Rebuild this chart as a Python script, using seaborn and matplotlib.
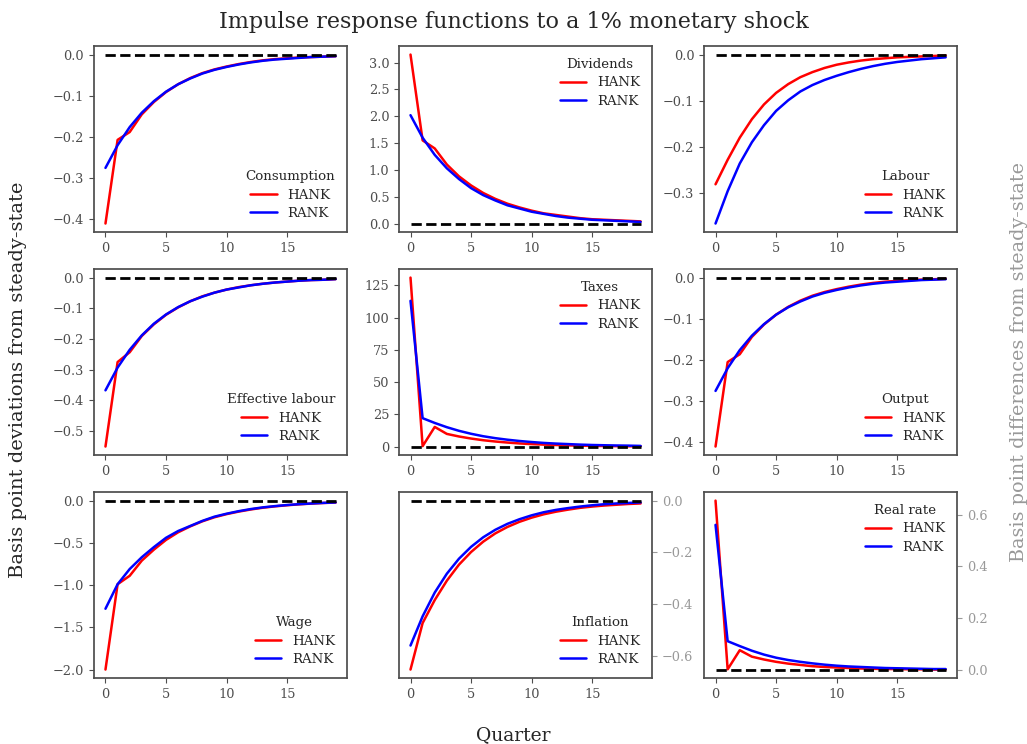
import matplotlib
matplotlib.use("Agg")
import matplotlib.pyplot as plt
import pandas as pd
import seaborn as sns

# Quarters after the shock
quarters = list(range(20))

# Impulse responses (basis points), HANK vs RANK
consumption_hank = [-0.410, -0.207, -0.188, -0.145, -0.115, -0.091, -0.072, -0.057, -0.045, -0.036,
                    -0.029, -0.023, -0.018, -0.014, -0.011, -0.009, -0.007, -0.006, -0.005, -0.004]
consumption_rank = [-0.275, -0.220, -0.176, -0.141, -0.113, -0.090, -0.072, -0.058, -0.046, -0.037,
                    -0.030, -0.024, -0.019, -0.015, -0.012, -0.010, -0.008, -0.006, -0.005, -0.004]

dividends_hank = [3.15, 1.55, 1.40, 1.10, 0.88, 0.71, 0.57, 0.46, 0.37, 0.30,
                  0.24, 0.19, 0.16, 0.13, 0.10, 0.08, 0.07, 0.06, 0.05, 0.04]
dividends_rank = [2.02, 1.60, 1.28, 1.03, 0.83, 0.66, 0.53, 0.43, 0.34, 0.28,
                  0.22, 0.18, 0.14, 0.11, 0.09, 0.07, 0.06, 0.05, 0.04, 0.03]

labour_hank = [-0.281, -0.228, -0.180, -0.140, -0.108, -0.083, -0.064, -0.049, -0.038, -0.029,
               -0.022, -0.017, -0.013, -0.010, -0.008, -0.006, -0.005, -0.004, -0.003, -0.002]
labour_rank = [-0.366, -0.296, -0.236, -0.190, -0.153, -0.122, -0.099, -0.080, -0.066, -0.055,
               -0.046, -0.038, -0.031, -0.025, -0.020, -0.016, -0.013, -0.010, -0.008, -0.006]

eff_labour_hank = [-0.550, -0.275, -0.243, -0.190, -0.152, -0.121, -0.097, -0.077, -0.061, -0.049,
                   -0.039, -0.031, -0.025, -0.020, -0.016, -0.013, -0.010, -0.008, -0.007, -0.005]
eff_labour_rank = [-0.367, -0.293, -0.235, -0.188, -0.150, -0.120, -0.096, -0.077, -0.062, -0.049,
                   -0.039, -0.032, -0.025, -0.020, -0.016, -0.013, -0.010, -0.008, -0.007, -0.005]

taxes_hank = [131.0, 0.3, 15.2, 9.8, 7.8, 6.2, 4.9, 3.9, 3.1, 2.4,
              1.9, 1.5, 1.2, 0.9, 0.7, 0.5, 0.4, 0.3, 0.2, 0.2]
taxes_rank = [113.0, 22.0, 18.3, 15.0, 12.2, 9.9, 8.0, 6.5, 5.3, 4.3,
              3.5, 2.8, 2.3, 1.9, 1.5, 1.2, 1.0, 0.8, 0.7, 0.5]

output_hank = [-0.410, -0.205, -0.186, -0.144, -0.114, -0.090, -0.071, -0.056, -0.044, -0.035,
               -0.028, -0.022, -0.017, -0.013, -0.010, -0.008, -0.006, -0.005, -0.004, -0.003]
output_rank = [-0.275, -0.220, -0.176, -0.141, -0.113, -0.090, -0.072, -0.058, -0.046, -0.037,
               -0.030, -0.024, -0.019, -0.015, -0.012, -0.010, -0.008, -0.006, -0.005, -0.004]

wage_hank = [-2.00, -0.99, -0.89, -0.71, -0.58, -0.465, -0.375, -0.305, -0.245, -0.197,
             -0.160, -0.130, -0.105, -0.084, -0.068, -0.055, -0.044, -0.035, -0.028, -0.023]
wage_rank = [-1.28, -0.99, -0.81, -0.67, -0.55, -0.44, -0.36, -0.30, -0.24, -0.19,
             -0.155, -0.125, -0.100, -0.080, -0.065, -0.052, -0.042, -0.034, -0.027, -0.022]

inflation_hank = [-0.654, -0.474, -0.385, -0.310, -0.248, -0.199, -0.159, -0.127, -0.102, -0.082,
                  -0.066, -0.053, -0.043, -0.035, -0.028, -0.023, -0.019, -0.016, -0.013, -0.011]
inflation_rank = [-0.561, -0.448, -0.356, -0.283, -0.225, -0.179, -0.142, -0.113, -0.090, -0.072,
                  -0.057, -0.045, -0.036, -0.029, -0.023, -0.018, -0.014, -0.011, -0.009, -0.007]

real_rate_hank = [0.655, 0.001, 0.075, 0.050, 0.039, 0.030, 0.023, 0.018, 0.013, 0.010,
                  0.008, 0.006, 0.004, 0.003, 0.002, 0.002, 0.001, 0.001, 0.000, 0.000]
real_rate_rank = [0.561, 0.110, 0.091, 0.073, 0.058, 0.046, 0.037, 0.030, 0.024, 0.019,
                  0.015, 0.012, 0.010, 0.008, 0.006, 0.005, 0.004, 0.003, 0.002, 0.002]

steady_state = [0.0] * len(quarters)

models = ["HANK", "RANK"]
palette = {"HANK": "red", "RANK": "blue"}

# (title, HANK, RANK, legend location, right-hand axis for differences)
panels = [
    ("Consumption", consumption_hank, consumption_rank, "lower right", False),
    ("Dividends", dividends_hank, dividends_rank, "upper right", False),
    ("Labour", labour_hank, labour_rank, "lower right", False),
    ("Effective labour", eff_labour_hank, eff_labour_rank, "lower right", False),
    ("Taxes", taxes_hank, taxes_rank, "upper right", False),
    ("Output", output_hank, output_rank, "lower right", False),
    ("Wage", wage_hank, wage_rank, "lower right", False),
    ("Inflation", inflation_hank, inflation_rank, "lower right", True),
    ("Real rate", real_rate_hank, real_rate_rank, "upper right", True),
]

sns.set_theme(style="ticks")
plt.rcParams["font.family"] = ["DejaVu Serif"]
plt.rcParams["axes.edgecolor"] = "0.3"
plt.rcParams["xtick.color"] = "0.3"
plt.rcParams["ytick.color"] = "0.3"
plt.rcParams["xtick.labelcolor"] = "0.3"
plt.rcParams["ytick.labelcolor"] = "0.3"

fig, axes = plt.subplots(3, 3, figsize=(10.27, 7.44), dpi=100)
fig.subplots_adjust(left=0.0915, right=0.932, top=0.938, bottom=0.0887,
                    wspace=0.205, hspace=0.2)

for ax, (name, hank, rank, loc, diff_axis) in zip(axes.flat, panels):
    df = pd.DataFrame({
        "Quarter": quarters * 2,
        "value": hank + rank,
        "model": [models[0]] * len(quarters) + [models[1]] * len(quarters),
    })
    sns.lineplot(data=df, x="Quarter", y="value", hue="model", palette=palette,
                 linewidth=1.8, ax=ax)
    handles, labels = ax.get_legend_handles_labels()
    sns.lineplot(x=quarters, y=steady_state, color="black", linestyle="--",
                 linewidth=2, ax=ax, legend=False, zorder=5)
    ax.legend(handles, labels, title=name, loc=loc, frameon=False,
              fontsize=9.6, title_fontsize=9.6, labelspacing=0.4)
    ax.set_xlabel("")
    ax.set_ylabel("")
    ax.set_xticks([0, 5, 10, 15])
    ax.tick_params(labelsize=9.3, length=3.5, width=0.8)
    if diff_axis:
        ax.yaxis.tick_right()
        ax.tick_params(axis="y", colors="0.6")

fig.suptitle("Impulse response functions to a 1% monetary shock", fontsize=16,
             y=0.985, color="0.15")
fig.text(0.018, 0.49, "Basis point deviations from steady-state", rotation=90,
         ha="center", va="center", fontsize=14, color="0.15")
fig.text(0.992, 0.513, "Basis point differences from steady-state", rotation=90,
         ha="center", va="center", fontsize=13.8, color="0.6")
fig.text(0.5, 0.012, "Quarter", ha="center", va="center", fontsize=13.5, color="0.15")

fig.savefig("out.png", dpi=100)
